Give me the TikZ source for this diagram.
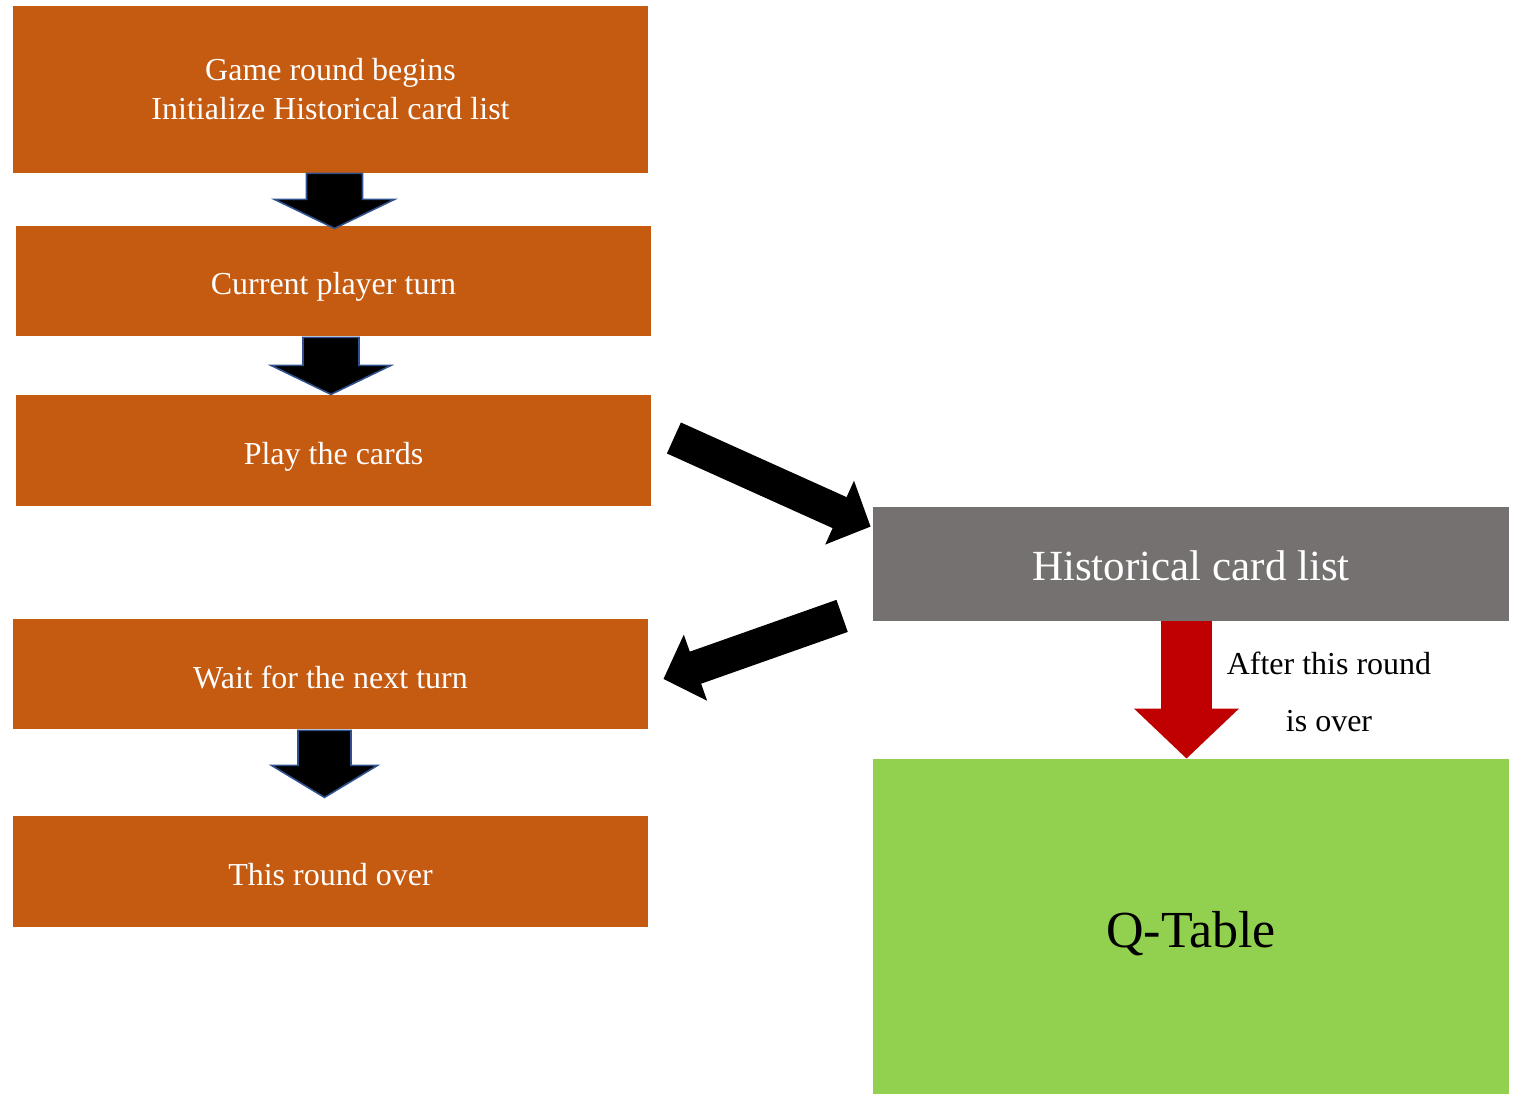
\documentclass[tikz,border=0pt]{standalone}
\usepackage{fontspec}
\setmainfont{Liberation Serif}
\usetikzlibrary{arrows.meta}
\usetikzlibrary{calc}

\definecolor{boxorange}{HTML}{C55A11}
\definecolor{boxgray}{HTML}{767171}
\definecolor{boxgreen}{HTML}{92D050}
\definecolor{arrred}{HTML}{C00000}
\definecolor{arrblue}{HTML}{2F528F}

% lower a label without changing the size the node sees
\newcommand{\sinklabel}[2]{\raisebox{-#1}[\height][\depth]{#2}}

\tikzset{
  stepbox/.style={fill=boxorange, text=white, inner sep=0pt, minimum width=317.5pt, align=center, font=\fontsize{16}{19.5}\selectfont},
  downblk/.style={fill=black, draw=arrblue, line width=0.8pt, line join=miter},
  fatarrow/.style={line width=17pt, -{Triangle[length=17pt, width=34pt]}},
  redarrow/.style={arrred, line width=25.5pt, -{Triangle[length=25pt, width=51pt]}}
}

\begin{document}
\begin{tikzpicture}[x=0.5pt,y=0.5pt,yscale=-1,xscale=1]
\useasboundingbox (0,0) rectangle (1519,1095);

% Left column boxes
\node[stepbox, minimum height=83.5pt] (begin) at (330.5,89.5) {Game round begins\\Initialize Historical card list};
\node[stepbox, minimum height=55pt] (turn) at (333.5,281) {\sinklabel{3pt}{Current player turn}};
\node[stepbox, minimum height=55.5pt] (play) at (333.5,450.5) {\sinklabel{3pt}{Play the cards}};
\node[stepbox, minimum height=55pt] (wait) at (330.5,674) {\sinklabel{1.5pt}{Wait for the next turn}};
\node[stepbox, minimum height=55.5pt] (over) at (330.5,871.5) {\sinklabel{1.5pt}{This round over}};

% Right column boxes
\node[fill=boxgray, text=white, inner sep=0pt, minimum width=318pt, minimum height=57pt, font=\fontsize{21.5}{25}\selectfont] (hist) at (1191,564) {\sinklabel{1pt}{Historical card list}};
\node[fill=boxgreen, inner sep=0pt, minimum width=318pt, minimum height=167.5pt, font=\fontsize{26}{30}\selectfont] (qtab) at (1191,926.5) {\sinklabel{3.5pt}{Q-Table}};

% Down arrows
\draw[downblk, shift={($(begin.south)+(4,0)$)}] (-28,0) -- (28,0) -- (28,26) -- (60,26) -- (0,55) -- (-60,26) -- (-28,26) -- cycle;
\draw[downblk, shift={($(turn.south)+(-2.5,1)$)}] (-28,0) -- (28,0) -- (28,28) -- (60,28) -- (0,57) -- (-60,28) -- (-28,28) -- cycle;
\draw[downblk, shift={($(wait.south)+(-6,1)$)}] (-26.5,0) -- (26.5,0) -- (26.5,35) -- (53,35) -- (0,67) -- (-53,35) -- (-26.5,35) -- cycle;

% Diagonal arrows
\draw[fatarrow] ($(play.east)+(22.5,-12.5)$) -- ($(hist.north west)+(-2,20)$);
\draw[fatarrow] ($(hist.south west)+(-30.5,-5.5)$) -- ($(wait.east)+(15,5)$);

% Red arrow
\draw[redarrow] ($(hist.south)+(-4.5,0)$) -- ($(qtab.north)+(-4.5,0)$);
\node[align=center, inner sep=0pt, font=\fontsize{16}{28.5}\selectfont] (after) at (1329,691.5) {After this round\\is over};

\end{tikzpicture}
\end{document}
